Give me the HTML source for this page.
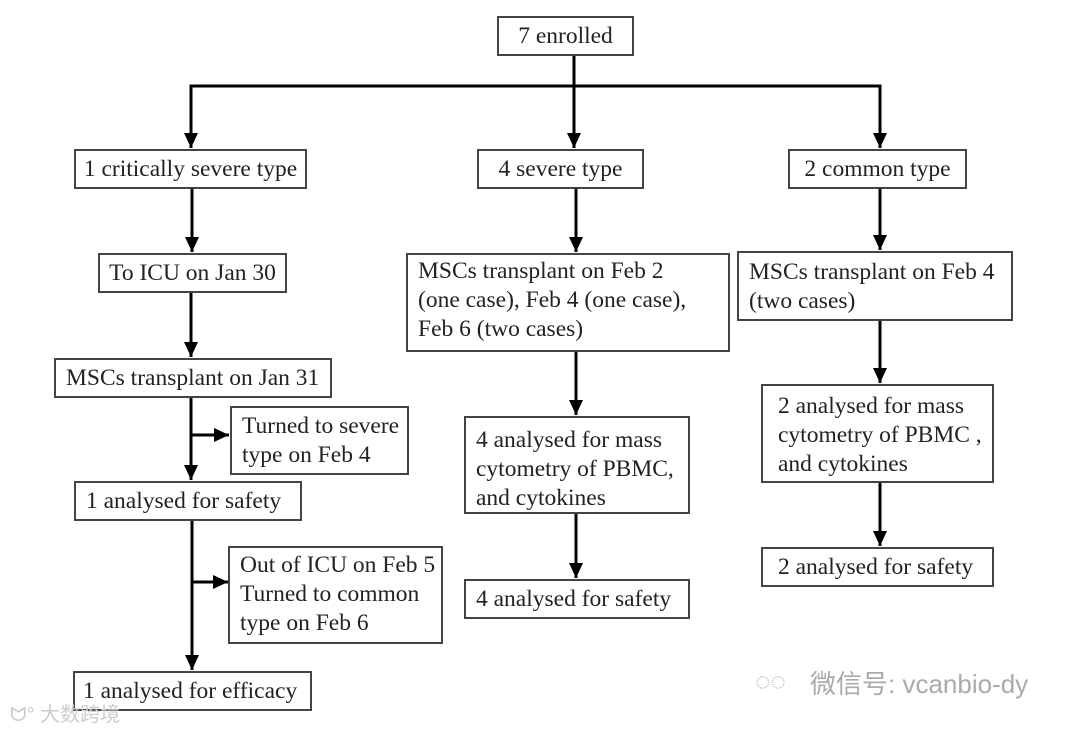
<!DOCTYPE html>
<html><head><style>
body{margin:0;width:1080px;height:732px;background:#fff;position:relative;overflow:hidden;font-family:"Liberation Serif",serif;color:#222}
.b{position:absolute;border:2px solid #444;box-sizing:border-box;font-size:23.5px;line-height:29px;padding:3px 0 0 26px;white-space:nowrap}
.c{text-align:center;padding-left:0;padding-top:4px}
svg{position:absolute;left:0;top:0}
.wm{position:absolute;font-family:"Liberation Sans","Noto Sans CJK SC",sans-serif;color:#bbb}
</style></head><body>
<svg width="1080" height="732">
<defs><marker id="d" markerWidth="16" markerHeight="14" refX="15" refY="7" orient="auto" markerUnits="userSpaceOnUse"><path d="M0,0L15,7L0,14z" fill="#000"/></marker></defs>
<g stroke="#000" stroke-width="3" fill="none">
<line x1="574" y1="55" x2="574" y2="148" marker-end="url(#d)"/>
<polyline points="191,148 191,86 880,86 880,148" marker-end="url(#d)"/>
<line x1="191" y1="86" x2="191" y2="148" marker-end="url(#d)"/>
<line x1="192" y1="188" x2="192" y2="252" marker-end="url(#d)"/>
<line x1="191" y1="292" x2="191" y2="357" marker-end="url(#d)"/>
<line x1="191" y1="397" x2="191" y2="480" marker-end="url(#d)"/>
<line x1="191" y1="435" x2="229" y2="435" marker-end="url(#d)"/>
<line x1="192" y1="520" x2="192" y2="670" marker-end="url(#d)"/>
<line x1="192" y1="582" x2="228" y2="582" marker-end="url(#d)"/>
<line x1="576" y1="188" x2="576" y2="252" marker-end="url(#d)"/>
<line x1="576" y1="351" x2="576" y2="415" marker-end="url(#d)"/>
<line x1="576" y1="513" x2="576" y2="578" marker-end="url(#d)"/>
<line x1="880" y1="188" x2="880" y2="250" marker-end="url(#d)"/>
<line x1="880" y1="320" x2="880" y2="383" marker-end="url(#d)"/>
<line x1="880" y1="482" x2="880" y2="546" marker-end="url(#d)"/>
</g></svg>
<div class="b c" style="left:497px;top:16px;width:137px;height:40px">7 enrolled</div>
<div class="b c" style="left:74px;top:149px;width:233px;height:40px">1 critically severe type</div>
<div class="b c" style="left:477px;top:149px;width:167px;height:40px">4 severe type</div>
<div class="b c" style="left:788px;top:149px;width:179px;height:40px">2 common type</div>
<div class="b c" style="left:98px;top:253px;width:189px;height:40px">To ICU on Jan 30</div>
<div class="b" style="left:54px;top:358px;width:278px;height:40px;padding-left:10px;padding-top:4px">MSCs transplant on Jan 31</div>
<div class="b" style="left:230px;top:406px;width:179px;height:69px;padding-left:10px;padding-top:4px">Turned to severe<br>type on Feb 4</div>
<div class="b" style="left:74px;top:481px;width:228px;height:40px;padding-left:10px;padding-top:4px">1 analysed for safety</div>
<div class="b" style="left:228px;top:546px;width:215px;height:98px;padding-left:10px;padding-top:3px">Out of ICU on Feb 5<br>Turned to common<br>type on Feb 6</div>
<div class="b" style="left:73px;top:671px;width:239px;height:40px;padding-left:8px;padding-top:4px">1 analysed for efficacy</div>
<div class="b" style="left:406px;top:253px;width:324px;height:99px;padding-left:10px;padding-top:2px">MSCs transplant on Feb 2<br>(one case), Feb 4 (one case),<br>Feb 6 (two cases)</div>
<div class="b" style="left:464px;top:416px;width:226px;height:98px;padding-left:10px;padding-top:8px">4 analysed for mass<br>cytometry of PBMC,<br>and cytokines</div>
<div class="b" style="left:464px;top:579px;width:226px;height:40px;padding-left:10px;padding-top:4px">4 analysed for safety</div>
<div class="b" style="left:737px;top:251px;width:276px;height:70px;padding-left:10px;padding-top:5px">MSCs transplant on Feb 4<br>(two cases)</div>
<div class="b" style="left:761px;top:384px;width:233px;height:99px;padding-left:15px;padding-top:6px">2 analysed for mass<br>cytometry of PBMC ,<br>and cytokines</div>
<div class="b" style="left:761px;top:547px;width:233px;height:40px;padding-left:15px;padding-top:4px">2 analysed for safety</div>
<div class="wm" style="left:810px;top:664px;font-size:26px;color:#aaa">微信号: vcanbio-dy</div>
<div class="wm" style="left:755px;top:666px;font-size:26px;color:#bbb">◌◌</div>
<div class="wm" style="left:10px;top:698px;font-size:20px;color:#ccc">ᗢ° 大数跨境</div>
</body></html>
